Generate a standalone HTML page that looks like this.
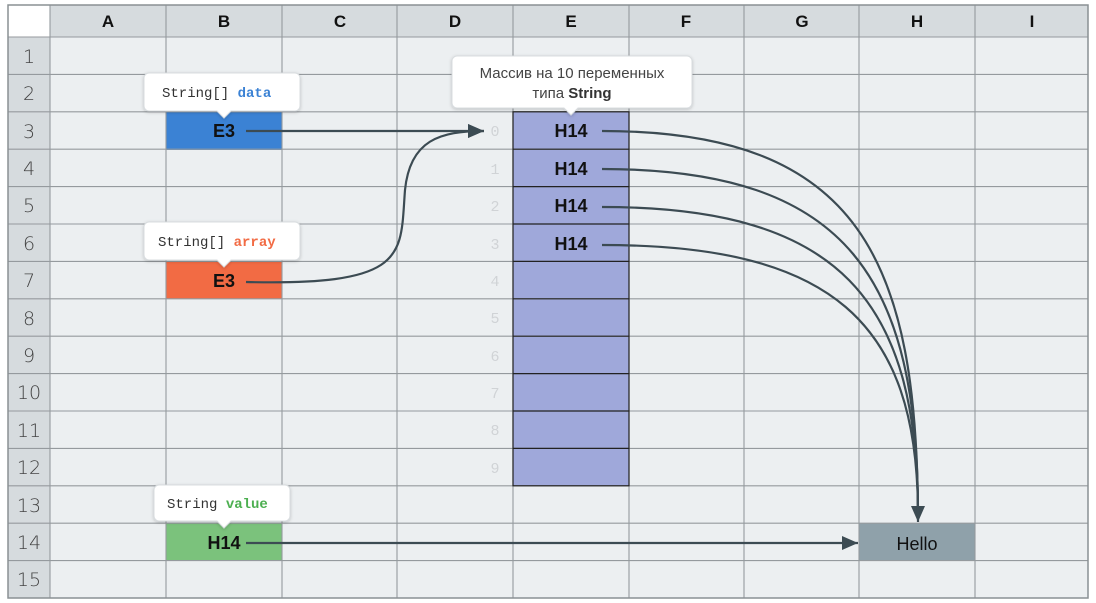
<!DOCTYPE html>
<html><head><meta charset="utf-8"><style>
body{margin:0;background:#fff;width:1096px;height:603px;overflow:hidden}
svg{display:block}
.h{font:bold 17px "Liberation Sans",sans-serif;fill:#111;text-anchor:middle}
.r{font:19px "DejaVu Sans",sans-serif;font-weight:200;fill:#444;text-anchor:middle}
.v{font:bold 18px "Liberation Sans",sans-serif;fill:#111;text-anchor:middle}
.m{font:14px "Liberation Mono",monospace;fill:#333}
.idx{font:15px "Liberation Mono",monospace;fill:#d0d3d6;text-anchor:middle}
</style></head><body>
<svg width="1096" height="603" xmlns="http://www.w3.org/2000/svg">
<defs>
<marker id="b" markerWidth="16" markerHeight="14" refX="16" refY="7" orient="auto" markerUnits="userSpaceOnUse"><path d="M0,0 L16,7 L0,14z" fill="#3c4b53"/></marker>
<filter id="s" x="-10%" y="-20%" width="120%" height="150%"><feDropShadow dx="0" dy="1" stdDeviation="1.5" flood-color="#000" flood-opacity="0.2"/></filter>
</defs>
<rect x="8" y="5" width="1080" height="593" fill="#eceff1"/>
<rect x="8" y="5" width="1080" height="32" fill="#d6dbde"/>
<rect x="8" y="5" width="42" height="593" fill="#d6dbde"/>
<rect x="8" y="5" width="42" height="32" fill="#fff"/>
<rect x="166" y="112" width="116" height="38" fill="#3b82d4"/>
<rect x="166" y="262" width="116" height="37" fill="#f26b44"/>
<rect x="166" y="523" width="116" height="38" fill="#7bc27c"/>
<rect x="513" y="112" width="116" height="374" fill="#9fa8da"/>
<rect x="859" y="523" width="116" height="38" fill="#8fa1aa"/>
<g stroke="#959a9e" stroke-width="1.1">
<line x1="8" y1="37" x2="1088" y2="37"/>
<line x1="8" y1="74.4" x2="1088" y2="74.4"/><line x1="8" y1="111.8" x2="1088" y2="111.8"/>
<line x1="8" y1="149.2" x2="1088" y2="149.2"/><line x1="8" y1="186.6" x2="1088" y2="186.6"/>
<line x1="8" y1="224" x2="1088" y2="224"/><line x1="8" y1="261.4" x2="1088" y2="261.4"/>
<line x1="8" y1="298.8" x2="1088" y2="298.8"/><line x1="8" y1="336.2" x2="1088" y2="336.2"/>
<line x1="8" y1="373.6" x2="1088" y2="373.6"/><line x1="8" y1="411" x2="1088" y2="411"/>
<line x1="8" y1="448.4" x2="1088" y2="448.4"/><line x1="8" y1="485.8" x2="1088" y2="485.8"/>
<line x1="8" y1="523.2" x2="1088" y2="523.2"/><line x1="8" y1="560.6" x2="1088" y2="560.6"/>
<line x1="50" y1="5" x2="50" y2="598"/><line x1="166" y1="5" x2="166" y2="598"/>
<line x1="282" y1="5" x2="282" y2="598"/><line x1="397" y1="5" x2="397" y2="598"/>
<line x1="513" y1="5" x2="513" y2="598"/><line x1="629" y1="5" x2="629" y2="598"/>
<line x1="744" y1="5" x2="744" y2="598"/><line x1="859" y1="5" x2="859" y2="598"/>
<line x1="975" y1="5" x2="975" y2="598"/>
</g>
<rect x="8" y="5" width="1080" height="593" fill="none" stroke="#8a9094" stroke-width="1.5"/>
<g stroke="#222" stroke-width="1.2" fill="none">
<rect x="513" y="111.8" width="116" height="374"/>
<line x1="513" y1="149.2" x2="629" y2="149.2"/><line x1="513" y1="186.6" x2="629" y2="186.6"/>
<line x1="513" y1="224" x2="629" y2="224"/><line x1="513" y1="261.4" x2="629" y2="261.4"/>
<line x1="513" y1="298.8" x2="629" y2="298.8"/><line x1="513" y1="336.2" x2="629" y2="336.2"/>
<line x1="513" y1="373.6" x2="629" y2="373.6"/><line x1="513" y1="411" x2="629" y2="411"/>
<line x1="513" y1="448.4" x2="629" y2="448.4"/>
</g>
<g class="h"><text x="108" y="27">A</text><text x="224" y="27">B</text><text x="340" y="27">C</text><text x="455" y="27">D</text><text x="571" y="27">E</text><text x="686" y="27">F</text><text x="802" y="27">G</text><text x="917" y="27">H</text><text x="1032" y="27">I</text></g>
<g class="r">
<text x="29" y="63">1</text><text x="29" y="100">2</text><text x="29" y="138">3</text><text x="29" y="175">4</text><text x="29" y="212">5</text><text x="29" y="250">6</text><text x="29" y="287">7</text><text x="29" y="325">8</text><text x="29" y="362">9</text><text x="29" y="399">10</text><text x="29" y="437">11</text><text x="29" y="474">12</text><text x="29" y="512">13</text><text x="29" y="549">14</text><text x="29" y="586">15</text>
</g>
<g class="idx"><text x="495" y="136">0</text><text x="495" y="174">1</text><text x="495" y="211">2</text><text x="495" y="249">3</text><text x="495" y="286">4</text><text x="495" y="323">5</text><text x="495" y="361">6</text><text x="495" y="398">7</text><text x="495" y="435">8</text><text x="495" y="473">9</text></g>
<g class="v">
<text x="224" y="137">E3</text><text x="224" y="287">E3</text><text x="224" y="549">H14</text>
<text x="571" y="137">H14</text><text x="571" y="175">H14</text><text x="571" y="212">H14</text><text x="571" y="250">H14</text>
</g>
<text x="917" y="550" text-anchor="middle" style="font:18px 'Liberation Sans',sans-serif;fill:#111">Hello</text>
<g stroke="#3c4b53" stroke-width="2.2" fill="none">
<path d="M246,131 L484,131" marker-end="url(#b)"/>
<path d="M246,282 C410,286 400,255 405,190 C410,140 440,131 484,131" marker-end="url(#b)"/>
<path d="M602,131 C860,131 918,260 918,522" marker-end="url(#b)"/>
<path d="M602,169 C850,169 918,280 918,515"/>
<path d="M602,207 C840,207 918,300 918,515"/>
<path d="M602,245 C830,245 918,320 918,515"/>
<path d="M246,543 L858,543" marker-end="url(#b)"/>
</g>
<g filter="url(#s)" fill="#fff" stroke="#d8dcdf">
<path d="M149,73 h146 a5,5 0 0 1 5,5 v28 a5,5 0 0 1 -5,5 h-64 l-7,7 l-7,-7 h-68 a5,5 0 0 1 -5,-5 v-28 a5,5 0 0 1 5,-5z"/>
<path d="M149,222 h146 a5,5 0 0 1 5,5 v28 a5,5 0 0 1 -5,5 h-64 l-7,7 l-7,-7 h-68 a5,5 0 0 1 -5,-5 v-28 a5,5 0 0 1 5,-5z"/>
<path d="M159,485 h126 a5,5 0 0 1 5,5 v26 a5,5 0 0 1 -5,5 h-54 l-7,7 l-7,-7 h-58 a5,5 0 0 1 -5,-5 v-26 a5,5 0 0 1 5,-5z"/>
<path d="M457,56 h230 a5,5 0 0 1 5,5 v42 a5,5 0 0 1 -5,5 h-109 l-7,7 l-7,-7 h-107 a5,5 0 0 1 -5,-5 v-42 a5,5 0 0 1 5,-5z"/>
</g>
<text x="162" y="97" class="m">String[] <tspan fill="#3b82d4" font-weight="bold">data</tspan></text>
<text x="158" y="246" class="m">String[] <tspan fill="#f26b44" font-weight="bold">array</tspan></text>
<text x="167" y="508" class="m">String <tspan fill="#4caf50" font-weight="bold">value</tspan></text>
<text x="572" y="78" text-anchor="middle" style="font:15px 'Liberation Sans',sans-serif;fill:#444">Массив на 10 переменных</text>
<text x="572" y="98" text-anchor="middle" style="font:15px 'Liberation Sans',sans-serif;fill:#444">типа <tspan font-weight="bold" fill="#333">String</tspan></text>
</svg>
</body></html>
